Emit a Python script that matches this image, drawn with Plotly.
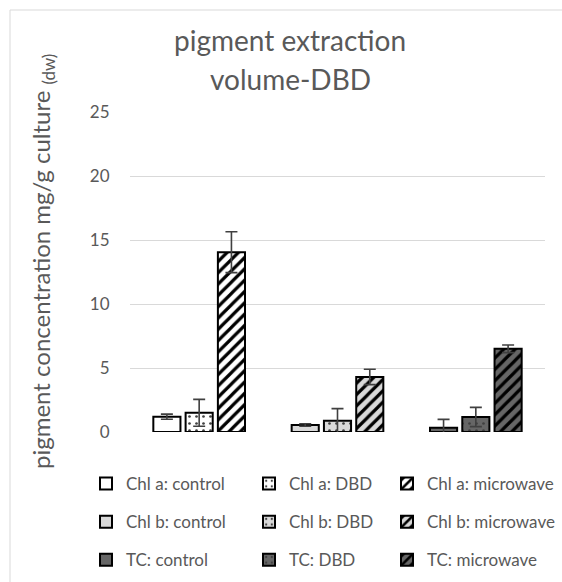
import plotly.graph_objects as go

categories = ["Chl a", "Chl b", "TC"]
treatments = ["control", "DBD", "microwave"]
values = {
    "Chl a": [1.2, 1.5, 14.05],
    "Chl b": [0.55, 0.88, 4.3],
    "TC": [0.34, 1.17, 6.5],
}
errors = {
    "Chl a": [0.2, 1.05, 1.6],
    "Chl b": [0.1, 0.95, 0.6],
    "TC": [0.65, 0.75, 0.3],
}
y_ticks = [0, 5, 10, 15, 20, 25]
title_lines = ["pigment extraction", "volume-DBD"]
y_title = "pigment concentration mg/g culture <sub>(dw)</sub>"

fill_colors = {"Chl a": "#ffffff", "Chl b": "#d9d9d9", "TC": "#666666"}
patterns = {
    "control": dict(shape=""),
    "DBD": dict(shape=".", size=7, solidity=0.12, fgcolor="#404040"),
    "microwave": dict(shape="/", size=8, solidity=0.4, fgcolor="#000000"),
}
legend_ids = {"control": "legend", "DBD": "legend2", "microwave": "legend3"}

FONT = "Lato, 'Open Sans', sans-serif"
TXT = "#595959"

fig = go.Figure()
for cat in categories:
    for i, tr in enumerate(treatments):
        pat = dict(patterns[tr])
        if pat.get("shape"):
            pat["bgcolor"] = fill_colors[cat]
            pat["fillmode"] = "replace"
        fig.add_trace(go.Bar(
            x=[cat], y=[values[cat][i]],
            name=f"{cat}: {tr}",
            offsetgroup=tr, alignmentgroup="all",
            legendgroup=f"{cat}-{tr}",
            marker=dict(color=fill_colors[cat],
                        line=dict(color="#000000", width=2),
                        pattern=pat),
            error_y=dict(type="data", array=[errors[cat][i]], visible=True,
                         color="#404040", thickness=1.6, width=6),
            legend=legend_ids[tr],
        ))

def leg(xpx):
    return dict(orientation="v", font=dict(family=FONT, size=17, color=TXT),
                traceorder="grouped", tracegroupgap=13,
                xref="container", yref="container",
                x=xpx / 562, xanchor="left", y=1 - 466 / 582, yanchor="top",
                bgcolor="rgba(0,0,0,0)")

# pixel -> paper helpers for the plot area (l=130, r=17, t=112, b=150)
def px_x(px):
    return (px - 130) / 415

def px_y(py):
    return (432 - py) / 320

annotations = [
    dict(text=title_lines[0], xref="paper", yref="paper", x=px_x(290), y=px_y(40),
         xanchor="center", yanchor="middle", showarrow=False,
         font=dict(family=FONT, size=28, color=TXT)),
    dict(text=title_lines[1], xref="paper", yref="paper", x=px_x(290), y=px_y(79),
         xanchor="center", yanchor="middle", showarrow=False,
         font=dict(family=FONT, size=28, color=TXT)),
    dict(text=y_title, xref="paper", yref="paper", x=px_x(42), y=px_y(262),
         xanchor="center", yanchor="middle", textangle=-90, showarrow=False,
         font=dict(family=FONT, size=24, color=TXT)),
]

fig.update_layout(
    width=562, height=582,
    margin=dict(l=130, r=17, t=112, b=150, autoexpand=False),
    paper_bgcolor="white", plot_bgcolor="white",
    barmode="group", bargap=0.30, bargroupgap=0.16,
    font=dict(family=FONT, color=TXT),
    xaxis=dict(categoryorder="array", categoryarray=categories, showticklabels=False,
               showgrid=False, showline=False, zeroline=False, ticks=""),
    yaxis=dict(range=[0, 25], tickvals=y_ticks, showgrid=True, gridcolor="#d9d9d9",
               gridwidth=1, zeroline=False, showline=False,
               ticks="outside", ticklen=16, tickcolor="rgba(0,0,0,0)",
               tickfont=dict(family=FONT, size=17, color=TXT)),
    legend=leg(86),
    legend2=leg(249),
    legend3=leg(387),
    showlegend=True,
    annotations=annotations,
    shapes=[dict(type="rect", xref="paper", yref="paper", x0=px_x(10), y0=px_y(640),
                 x1=px_x(620), y1=px_y(10), line=dict(color="#d9d9d9", width=1),
                 fillcolor="rgba(0,0,0,0)", layer="below")],
)

fig.write_html("out.html")
